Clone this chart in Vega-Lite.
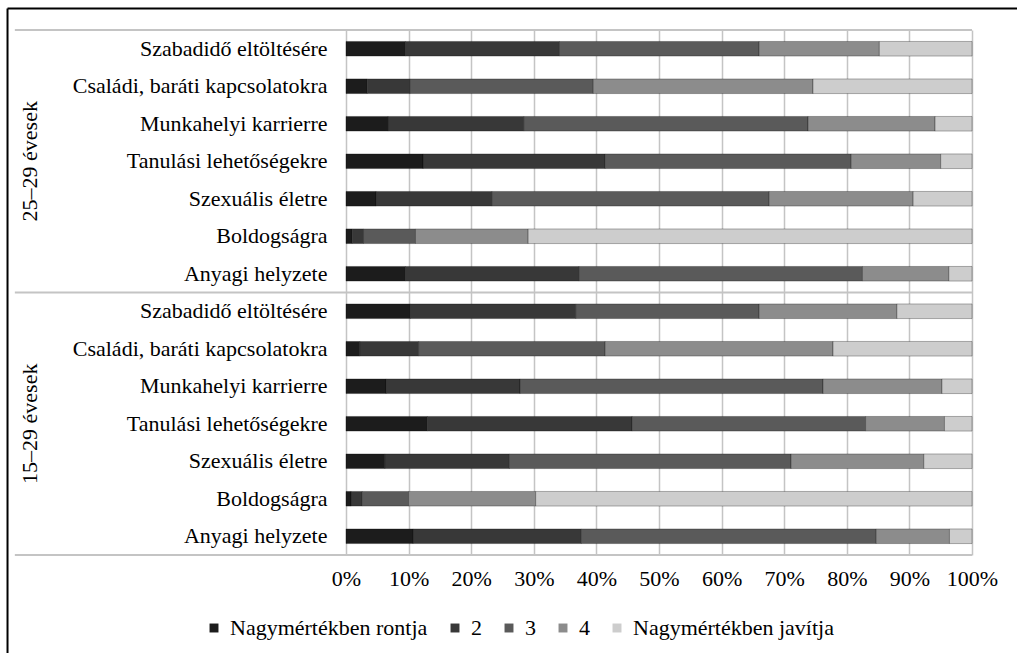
{
  "$schema": "https://vega.github.io/schema/vega-lite/v6.json",
  "autosize": {"type": "none"},
  "padding": {"left": 346, "top": 30, "right": 45, "bottom": 98},
  "width": 626,
  "height": 525,
  "background": "white",
  "config": {
    "view": {"stroke": null},
    "font": "Liberation Serif",
    "axis": {"labelFont": "Liberation Serif", "labelColor": "#000000", "labelFontSize": 22},
    "legend": {"labelFont": "Liberation Serif", "labelColor": "#000000", "labelFontSize": 22}
  },
  "datasets": {
    "adat": [
      {"csoport": "25–29 évesek", "tetel": "Szabadidő eltöltésére", "Nagymértékben rontja": 9.5, "2": 24.6, "3": 31.9, "4": 19.2, "Nagymértékben javítja": 14.8},
      {"csoport": "25–29 évesek", "tetel": "Családi, baráti kapcsolatokra", "Nagymértékben rontja": 3.4, "2": 6.8, "3": 29.3, "4": 35.1, "Nagymértékben javítja": 25.4},
      {"csoport": "25–29 évesek", "tetel": "Munkahelyi karrierre", "Nagymértékben rontja": 6.7, "2": 21.7, "3": 45.4, "4": 20.3, "Nagymértékben javítja": 5.9},
      {"csoport": "25–29 évesek", "tetel": "Tanulási lehetőségekre", "Nagymértékben rontja": 12.3, "2": 29.1, "3": 39.3, "4": 14.3, "Nagymértékben javítja": 5.0},
      {"csoport": "25–29 évesek", "tetel": "Szexuális életre", "Nagymértékben rontja": 4.8, "2": 18.5, "3": 44.3, "4": 23.0, "Nagymértékben javítja": 9.4},
      {"csoport": "25–29 évesek", "tetel": "Boldogságra", "Nagymértékben rontja": 1.0, "2": 1.8, "3": 8.3, "4": 18.0, "Nagymértékben javítja": 70.9},
      {"csoport": "25–29 évesek", "tetel": "Anyagi helyzete", "Nagymértékben rontja": 9.5, "2": 27.7, "3": 45.3, "4": 13.8, "Nagymértékben javítja": 3.7},
      {"csoport": "15–29 évesek", "tetel": "Szabadidő eltöltésére", "Nagymértékben rontja": 10.3, "2": 26.4, "3": 29.3, "4": 22.0, "Nagymértékben javítja": 12.0},
      {"csoport": "15–29 évesek", "tetel": "Családi, baráti kapcsolatokra", "Nagymértékben rontja": 2.2, "2": 9.4, "3": 29.8, "4": 36.4, "Nagymértékben javítja": 22.2},
      {"csoport": "15–29 évesek", "tetel": "Munkahelyi karrierre", "Nagymértékben rontja": 6.4, "2": 21.4, "3": 48.4, "4": 19.0, "Nagymértékben javítja": 4.8},
      {"csoport": "15–29 évesek", "tetel": "Tanulási lehetőségekre", "Nagymértékben rontja": 13.0, "2": 32.7, "3": 37.3, "4": 12.6, "Nagymértékben javítja": 4.4},
      {"csoport": "15–29 évesek", "tetel": "Szexuális életre", "Nagymértékben rontja": 6.2, "2": 19.9, "3": 45.0, "4": 21.2, "Nagymértékben javítja": 7.7},
      {"csoport": "15–29 évesek", "tetel": "Boldogságra", "Nagymértékben rontja": 0.8, "2": 1.8, "3": 7.4, "4": 20.3, "Nagymértékben javítja": 69.7},
      {"csoport": "15–29 évesek", "tetel": "Anyagi helyzete", "Nagymértékben rontja": 10.7, "2": 26.9, "3": 47.1, "4": 11.7, "Nagymértékben javítja": 3.6}
    ],
    "csoportok": [
      {"csoport": "25–29 évesek", "tetel": "Tanulási lehetőségekre"},
      {"csoport": "15–29 évesek", "tetel": "Tanulási lehetőségekre"}
    ],
    "egy": [{}]
  },
  "layer": [
    {
      "layer": [
        {
          "data": {"name": "adat"},
          "transform": [
            {"fold": ["Nagymértékben rontja", "2", "3", "4", "Nagymértékben javítja"], "as": ["valasz", "arany"]},
            {"calculate": "datum.csoport + '|' + datum.tetel", "as": "kulcs"},
            {"calculate": "indexof(['Nagymértékben rontja', '2', '3', '4', 'Nagymértékben javítja'], datum.valasz)", "as": "szint"}
          ],
          "mark": {"type": "bar", "height": {"band": 0.39}, "stroke": "#000000", "strokeOpacity": 0.3, "strokeWidth": 1},
          "encoding": {
            "y": {
              "field": "kulcs", "type": "nominal", "sort": null,
              "scale": {"paddingInner": 0, "paddingOuter": 0},
              "axis": {"title": null, "domain": false, "ticks": false, "labelPadding": 19, "labelExpr": "split(datum.label, '|')[1]", "labelLimit": 400}
            },
            "x": {
              "field": "arany", "type": "quantitative", "stack": "normalize",
              "scale": {"domain": [0, 1], "nice": false},
              "axis": {"title": null, "format": "%", "values": [0, 0.1, 0.2, 0.3, 0.4, 0.5, 0.6, 0.7, 0.8, 0.9, 1], "labelOverlap": false, "labelFlush": false, "domain": false, "ticks": false, "labelPadding": 13, "grid": true, "gridColor": "#c4c4c4", "gridWidth": 1.5}
            },
            "order": {"field": "szint", "type": "quantitative"},
            "color": {
              "field": "valasz", "type": "nominal",
              "sort": ["Nagymértékben rontja", "2", "3", "4", "Nagymértékben javítja"],
              "scale": {"range": ["#1c1c1c", "#383838", "#5a5a5a", "#8c8c8c", "#cdcdcd"]},
              "legend": {"title": null, "orient": "none", "direction": "horizontal", "legendX": -143, "legendY": 587, "symbolType": "square", "symbolSize": 80, "symbolStrokeWidth": 0, "columnPadding": 16, "labelOffset": 5, "labelLimit": 400}
            }
          }
        },
        {
          "data": {"name": "egy"},
          "mark": {"type": "rule", "color": "#c4c4c4", "strokeWidth": 2},
          "encoding": {
            "y": {"datum": "25–29 évesek|Szabadidő eltöltésére", "bandPosition": 0},
            "x": {"datum": -0.529},
            "x2": {"datum": 1}
          }
        },
        {
          "data": {"name": "egy"},
          "mark": {"type": "rule", "color": "#c4c4c4", "strokeWidth": 2},
          "encoding": {
            "y": {"datum": "25–29 évesek|Anyagi helyzete", "bandPosition": 1},
            "x": {"datum": -0.529},
            "x2": {"datum": 1}
          }
        },
        {
          "data": {"name": "egy"},
          "mark": {"type": "rule", "color": "#c4c4c4", "strokeWidth": 2},
          "encoding": {
            "y": {"datum": "15–29 évesek|Anyagi helyzete", "bandPosition": 1},
            "x": {"datum": -0.529},
            "x2": {"datum": 1}
          }
        },
        {
          "data": {"name": "csoportok"},
          "transform": [{"calculate": "datum.csoport + '|' + datum.tetel", "as": "kulcs"}],
          "mark": {"type": "text", "angle": 270, "align": "center", "baseline": "middle", "font": "Liberation Serif", "fontSize": 22, "color": "#000000"},
          "encoding": {
            "y": {"field": "kulcs", "type": "nominal", "sort": null},
            "x": {"datum": -0.505},
            "text": {"field": "csoport"}
          }
        }
      ]
    },
    {
      "data": {"name": "egy"},
      "layer": [
        {
          "mark": {"type": "rule", "color": "#000000", "strokeWidth": 2},
          "encoding": {
            "y": {"datum": 1.041, "scale": {"domain": [0, 1], "nice": false, "zero": false}, "axis": null},
            "x": {"datum": -0.5407},
            "x2": {"datum": 1.2}
          }
        },
        {
          "mark": {"type": "rule", "color": "#000000", "strokeWidth": 2},
          "encoding": {
            "y": {"datum": 1.041, "scale": {"domain": [0, 1], "nice": false, "zero": false}, "axis": null},
            "y2": {"datum": -0.4},
            "x": {"datum": -0.5407}
          }
        }
      ]
    }
  ],
  "resolve": {"scale": {"y": "independent"}, "axis": {"y": "independent"}}
}
